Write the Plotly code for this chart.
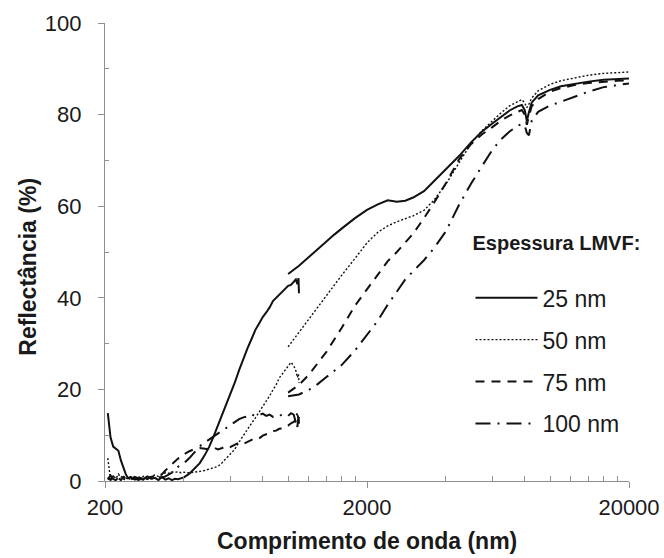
import math
import plotly.graph_objects as go

# ---------------- data ----------------
series_names = ["25 nm", "50 nm", "75 nm", "100 nm"]

# UV-Vis region (nm)
wl_uv = [205, 210, 215, 220, 225, 230, 235, 240, 245, 250, 260, 270, 280, 290, 300,
         310, 320, 330, 340, 350, 360, 370, 380, 390, 400, 420, 440, 460, 480, 500,
         520, 540, 560, 580, 600, 625, 650, 675, 700, 725, 750, 775, 800, 825, 850,
         875, 900, 925, 950, 975, 1000, 1025, 1050, 1070, 1085, 1095, 1100]

r25_uv = [14.8, 9.5, 7.5, 7.0, 6.6, 4.5, 2.8, 1.5, 0.6, 0.9, 0.3, 0.8, 0.4, 1.0, 0.5,
          0.7, 0.2, 0.9, 0.3, 0.6, 0.2, 0.5, 0.4, 0.6, 0.8, 1.6, 2.7, 3.9, 5.6, 7.5,
          9.8, 12.2, 14.6, 16.6, 18.6, 21.4, 24.2, 26.8, 29.0, 31.0, 33.0, 34.4, 35.8, 36.8, 37.9,
          39.3, 40.0, 40.6, 41.2, 41.9, 42.6, 42.8, 43.5, 44.0, 43.0, 44.3, 41.0]

r50_uv = [5.0, 0.3, 1.2, 0.5, 1.5, 0.8, 1.2, 0.4, 0.9, 0.2, 0.7, 0.4, 1.0, 0.6, 1.0,
          1.3, 1.0, 1.5, 1.8, 1.7, 2.0, 1.9, 2.0, 1.8, 1.9, 1.8, 1.9, 2.1, 2.3, 2.6,
          2.9, 3.2, 4.0, 4.9, 5.8, 6.9, 8.5, 10.0, 11.4, 12.6, 13.8, 15.0, 16.3, 17.5, 18.6,
          19.9, 21.0, 22.5, 23.4, 24.3, 25.0, 25.9, 25.2, 24.1, 22.6, 23.4, 21.4]

r75_uv = [0.8, 0.2, 1.0, 0.3, 0.6, 0.2, 0.9, 0.4, 0.3, 0.8, 0.5, 0.2, 0.7, 0.4, 0.9,
          1.1, 1.3, 1.5, 2.3, 3.0, 3.6, 4.3, 4.9, 5.2, 5.8, 6.5, 7.0, 7.2, 7.0, 6.9,
          7.3, 6.9, 7.2, 7.6, 7.4, 7.9, 8.4, 8.1, 8.6, 9.0, 9.4, 9.3, 9.9, 10.2, 10.4,
          10.9, 11.0, 11.4, 11.5, 12.0, 12.1, 12.6, 12.9, 13.4, 11.8, 14.2, 12.5]

r100_uv = [0.3, 1.2, 0.4, 0.2, 0.8, 0.3, 0.5, 0.2, 0.7, 0.4, 0.9, 0.5, 0.3, 0.8, 0.6,
           0.4, 0.9, 0.7, 1.0, 1.4, 1.8, 2.4, 3.1, 3.5, 3.9, 5.0, 6.4, 7.6, 8.4, 9.1,
           9.8, 10.4, 11.0, 11.5, 12.1, 12.9, 13.5, 13.9, 14.1, 14.6, 14.1, 14.4, 14.7, 14.2, 14.5,
           14.0, 14.3, 14.1, 14.6, 14.4, 14.2, 14.8, 14.5, 12.8, 15.3, 13.2, 14.0]

# NIR / IR region (nm)
wl_ir = [1000, 1100, 1200, 1300, 1400, 1500, 1600, 1800, 2000, 2200, 2400, 2600, 2800,
         3000, 3300, 3600, 4000, 4500, 5000, 5500, 6000, 6500, 7000, 7500, 7800, 8000,
         8150, 8300, 8500, 9000, 10000, 11000, 12500, 14000, 16000, 18000, 20000]

r25_ir = [45.2, 47.0, 48.9, 50.7, 52.3, 53.8, 55.1, 57.4, 59.2, 60.4, 61.3, 61.0, 61.2,
          61.9, 63.3, 65.5, 68.2, 71.0, 74.0, 76.3, 78.0, 79.6, 80.9, 81.8, 82.1, 81.0,
          78.6, 80.5, 82.6, 84.2, 85.4, 86.2, 86.8, 87.2, 87.6, 87.8, 87.9]

r50_ir = [29.3, 32.5, 35.4, 38.0, 40.5, 42.8, 44.9, 48.6, 52.0, 54.3, 55.7, 56.6, 57.3,
          57.9, 59.1, 61.3, 64.8, 69.7, 73.8, 76.5, 78.6, 80.4, 81.9, 82.9, 83.3, 82.5,
          81.5, 82.3, 83.6, 85.2, 86.6, 87.4, 88.1, 88.6, 89.0, 89.2, 89.3]

r75_ir = [19.3, 21.0, 23.2, 25.7, 28.2, 30.9, 33.4, 38.3, 41.8, 45.0, 48.0, 50.0, 52.0,
          54.0, 57.4, 60.7, 65.0, 70.3, 73.6, 75.7, 77.2, 78.7, 79.8, 80.6, 81.0, 80.0,
          77.8, 79.6, 81.8, 83.4, 85.0, 85.8, 86.5, 86.9, 87.2, 87.4, 87.5]

r100_ir = [18.5, 18.9, 19.9, 21.2, 22.7, 24.0, 25.3, 28.5, 31.8, 35.0, 38.5, 41.5, 44.0,
           45.8, 48.2, 50.8, 54.5, 60.4, 65.0, 68.8, 72.2, 74.6, 76.3, 77.5, 78.0, 77.6,
           76.0, 75.5, 78.6, 80.6, 82.0, 82.8, 84.0, 85.0, 86.0, 86.5, 86.8]

x_ticks = [200, 2000, 20000]
x_minor = [400, 600, 800, 1000, 1200, 1400, 1600, 1800,
           4000, 6000, 8000, 10000, 12000, 14000, 16000, 18000]
y_ticks = [0, 20, 40, 60, 80, 100]
y_minor = [10, 30, 50, 70, 90]

# ---------------- figure ----------------
FONT = "Liberation Sans, Arial, sans-serif"
TXT = "#1a1a1a"
AX = "#8f8f8f"
LINE = "#111111"

uv_sets = [r25_uv, r50_uv, r75_uv, r100_uv]
ir_sets = [r25_ir, r50_ir, r75_ir, r100_ir]
dashes = ["solid", "2px,2px", "9px,7px", "15px,7px,2px,7px"]
widths = [2.0, 1.4, 2.0, 2.0]

fig = go.Figure()
for i, name in enumerate(series_names):
    xs = list(wl_uv) + [None] + list(wl_ir)
    ys = list(uv_sets[i]) + [None] + list(ir_sets[i])
    fig.add_trace(go.Scatter(
        x=xs, y=ys, mode="lines", name=name, legendgroup=name,
        connectgaps=False,
        line=dict(color=LINE, width=widths[i], dash=dashes[i]),
    ))

fig.update_layout(
    width=664, height=558,
    margin=dict(l=105, r=35, t=23, b=77, autoexpand=False),
    paper_bgcolor="white", plot_bgcolor="white",
    font=dict(family=FONT, color=TXT, size=22),
    showlegend=True,
    legend=dict(
        x=0.6975, y=0.5605, xanchor="left", yanchor="top",
        bgcolor="rgba(0,0,0,0)",
        font=dict(family=FONT, size=23, color=TXT),
        title=dict(text="Espessura LMVF:<br> ",
                   font=dict(family=FONT, size=20, color=TXT, weight="bold")),
        itemwidth=62,
        tracegroupgap=9,
    ),
    xaxis=dict(
        type="log",
        range=[math.log10(200), math.log10(20000)],
        tickmode="array", tickvals=x_ticks, ticktext=[str(v) for v in x_ticks],
        ticks="outside", ticklen=6, tickwidth=1.2, tickcolor=AX,
        showline=True, linecolor=AX, linewidth=1.3,
        showgrid=False, zeroline=False,
        tickfont=dict(family=FONT, size=22, color=TXT),
        minor=dict(tickmode="array", tickvals=x_minor, ticks="inside",
                   ticklen=5, tickwidth=1, tickcolor=AX, showgrid=False),
    ),
    yaxis=dict(
        range=[0, 100],
        tickmode="array", tickvals=y_ticks,
        ticks="outside", ticklen=6, tickwidth=1.2, tickcolor=AX,
        showline=True, linecolor=AX, linewidth=1.3,
        showgrid=False, zeroline=False,
        tickfont=dict(family=FONT, size=22, color=TXT),
        ticklabelstandoff=12,
        minor=dict(tickmode="array", tickvals=y_minor, ticks="inside",
                   ticklen=4, tickwidth=1, tickcolor=AX, showgrid=False),
    ),
    annotations=[
        dict(text="Comprimento de onda (nm)", xref="paper", yref="paper",
             x=0.5, y=-0.13, xanchor="center", yanchor="middle", showarrow=False,
             font=dict(family=FONT, size=23, color=TXT, weight="bold")),
        dict(text="Reflectância (%)", xref="paper", yref="paper",
             x=-0.147, y=0.468, xanchor="center", yanchor="middle", showarrow=False,
             textangle=-90,
             font=dict(family=FONT, size=23, color=TXT, weight="bold")),
    ],
)

fig.write_html("out.html")
